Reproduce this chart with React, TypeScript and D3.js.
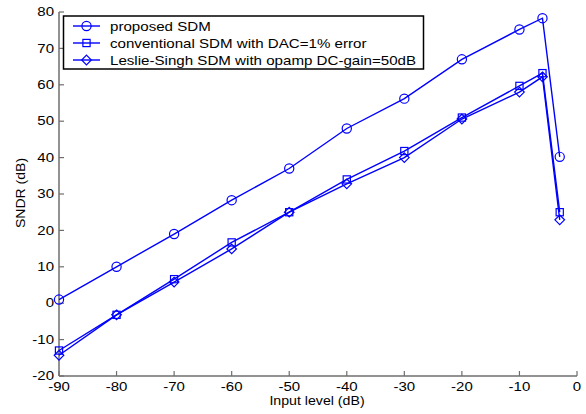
import * as d3 from "d3";

// input level (dB)
const inputLevels = [-90, -80, -70, -60, -50, -40, -30, -20, -10, -6, -3];
// SNDR (dB) per design
const proposedSDM = [1, 10, 19, 28.3, 37, 48, 56.2, 67, 75.2, 78.3, 40.2];
const conventionalSDM = [-13, -3.2, 6.6, 16.7, 25, 34, 41.8, 51, 59.7, 63.2, 25];
const leslieSinghSDM = [-14.3, -3.2, 5.8, 14.9, 25, 32.8, 40, 50.6, 58, 62.2, 22.9];

const xTicks = [-90, -80, -70, -60, -50, -40, -30, -20, -10, 0];
const yTicks = [-20, -10, 0, 10, 20, 30, 40, 50, 60, 70, 80];

const seriesNames = [
  "proposed SDM",
  "conventional SDM with DAC=1% error",
  "Leslie-Singh SDM with opamp DC-gain=50dB",
];
const seriesValues = [proposedSDM, conventionalSDM, leslieSinghSDM];
const seriesMarkers = ["circle", "square", "diamond"];

const W = 586;
const H = 414;
const blue = "#0000ff";
const axisGray = "#6e6e6e";
const font = "Liberation Sans, Arial, Helvetica, sans-serif";

// text drawn a bit wider than the font, like the original export
function WideText({
  x, y, size, sx, anchor, children,
}: { x: number; y: number; size: number; sx: number; anchor?: string; children: any }) {
  return (
    <text
      transform={`translate(${x},${y}) scale(${sx},1)`}
      fontSize={size}
      textAnchor={anchor ?? "start"}
      fill="#000"
    >
      {children}
    </text>
  );
}

function Marker({ kind, x, y }: { kind: string; x: number; y: number }) {
  if (kind === "circle")
    return <circle cx={x} cy={y} r={4.6} fill="none" stroke={blue} strokeWidth={1.2} />;
  if (kind === "square")
    return <rect x={x - 3.6} y={y - 3.6} width={7.2} height={7.2} fill="none" stroke={blue} strokeWidth={1.2} />;
  const s = 4.8;
  return (
    <path
      d={`M${x},${y - s}L${x + s},${y}L${x},${y + s}L${x - s},${y}Z`}
      fill="none"
      stroke={blue}
      strokeWidth={1.2}
    />
  );
}

export default function App() {
  const x = d3.scaleLinear().domain([-90, 0]).range([59, 577]);
  const y = d3.scaleLinear().domain([-20, 80]).range([376, 12]);
  const line = d3
    .line<number>()
    .x((_, i) => x(inputLevels[i]))
    .y((d) => y(d));

  return (
    <svg
      width={W}
      height={H}
      style={{ position: "absolute", left: 0, top: 0, background: "#fff" }}
      fontFamily={font}
    >
      {/* axes */}
      <line x1={x(-90)} y1={y(-20)} x2={x(0)} y2={y(-20)} stroke={axisGray} strokeWidth={1.5} />
      <line x1={x(-90)} y1={y(-20)} x2={x(-90)} y2={y(80)} stroke={axisGray} strokeWidth={1.5} />
      {xTicks.map((t) => (
        <g key={"x" + t}>
          <line x1={x(t)} x2={x(t)} y1={y(-20)} y2={y(-20) - 5} stroke={axisGray} strokeWidth={1.2} />
          <WideText x={x(t)} y={390.5} size={12} sx={1.25} anchor="middle">
            {t}
          </WideText>
        </g>
      ))}
      {yTicks.map((t) => (
        <g key={"y" + t}>
          <line x1={x(-90)} x2={x(-90) + 5} y1={y(t)} y2={y(t)} stroke={axisGray} strokeWidth={1.2} />
          <WideText x={54} y={y(t) + 4.2} size={12} sx={1.25} anchor="end">
            {t}
          </WideText>
        </g>
      ))}
      <WideText x={317} y={405} size={13} sx={1.09} anchor="middle">
        Input level (dB)
      </WideText>
      <text
        transform={`translate(25,193) rotate(-90) scale(1.08,1)`}
        textAnchor="middle"
        fontSize={13}
        fill="#000"
      >
        SNDR (dB)
      </text>

      {/* series */}
      {seriesValues.map((vals, si) => (
        <g key={si}>
          <path d={line(vals) ?? ""} fill="none" stroke={blue} strokeWidth={1.4} />
          {vals.map((v, i) => (
            <Marker key={i} kind={seriesMarkers[si]} x={x(inputLevels[i])} y={y(v)} />
          ))}
        </g>
      ))}

      {/* legend */}
      <rect x={63.5} y={16} width={360} height={53} fill="#fff" stroke="#000" strokeWidth={1.5} />
      {seriesNames.map((name, i) => {
        const ly = 26 + i * 17;
        return (
          <g key={name}>
            <line x1={73} x2={100} y1={ly} y2={ly} stroke={blue} strokeWidth={1.4} />
            <Marker kind={seriesMarkers[i]} x={86.5} y={ly} />
            <WideText x={110} y={ly + 5.2} size={12.6} sx={1.2}>
              {name}
            </WideText>
          </g>
        );
      })}
    </svg>
  );
}
